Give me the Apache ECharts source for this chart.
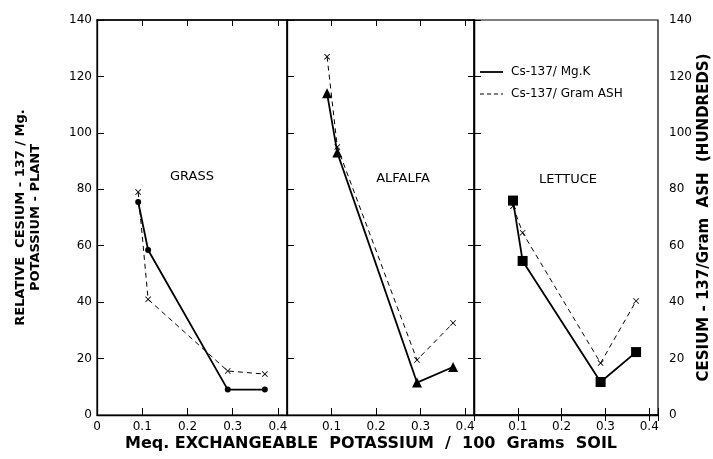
<!DOCTYPE html>
<html>
<head>
<meta charset="utf-8">
<script src="https://cdn.jsdelivr.net/npm/echarts@6/dist/echarts.min.js"></script>
<style>
  html, body { margin: 0; padding: 0; background: #fff; }
  #chart { width: 713px; height: 459px; }
</style>
</head>
<body>
<div id="chart"></div>
<script>
// panel names
const panels = ['GRASS', 'ALFALFA', 'LETTUCE']
// x = meq exchangeable potassium / 100 g soil
const grassX = [0.091, 0.113, 0.289, 0.371]
const grassMgK = [75.5, 58.5, 9, 9]
const grassAsh = [79, 41, 15.6, 14.5]
const alfalfaX = [0.090, 0.113, 0.292, 0.373]
const alfalfaMgK = [114, 93, 11.5, 17]
const alfalfaAsh = [127, 95, 19.5, 32.6]
const lettuceX = [0.089, 0.111, 0.289, 0.370]
const lettuceMgK = [76, 54.6, 11.7, 22.3]
const lettuceAsh = [74, 64.6, 18.4, 40.4]

const pairs = (xs, ys) => xs.map((x, i) => [x, ys[i]])
const FONT = 'DejaVu Sans'
const crossPath = 'path://M0,1L1,0L5,4L9,0L10,1L6,5L10,9L9,10L5,6L1,10L0,9L4,5Z'

let myChart = echarts.init(document.getElementById('chart'))

const grids = [
  { left: 97, width: 190, top: 20, height: 395 },
  { left: 287, width: 187, top: 20, height: 395 },
  { left: 474, width: 189, top: 20, height: 395 }
]

function xLabel(panel) {
  return function (v) {
    let r = Math.round(v * 10) / 10
    if (Math.abs(v - r) > 1e-6) return ''
    if (r === 0) return panel === 0 ? '0' : ''
    return r.toFixed(1)
  }
}

const xAxes = []
grids.forEach((g, i) => {
  xAxes.push({
    type: 'value', gridIndex: i, min: 0, max: 0.42, interval: 0.1,
    splitLine: { show: false },
    axisLine: { lineStyle: { color: '#000', width: 1.3 } },
    axisTick: { inside: true, length: 7, lineStyle: { color: '#000' } },
    axisLabel: { color: '#000', fontFamily: FONT, fontSize: 12, margin: 6, formatter: xLabel(i) }
  })
})
grids.forEach((g, i) => {
  xAxes.push({
    type: 'value', gridIndex: i, position: 'top', min: 0, max: 0.42, interval: 0.1,
    splitLine: { show: false },
    axisLine: { lineStyle: { color: '#000', width: 1.5 } },
    axisTick: { inside: true, length: 6, lineStyle: { color: '#000' } },
    axisLabel: { show: false }
  })
})

const yAxes = grids.map((g, i) => ({
  type: 'value', gridIndex: i, min: 0, max: 140, interval: 20,
  splitLine: { show: false },
  axisLine: { lineStyle: { color: '#000', width: 1.3 } },
  axisTick: { inside: true, length: 7, lineStyle: { color: '#000' } },
  axisLabel: { show: i === 0, color: '#000', fontFamily: FONT, fontSize: 12, margin: 5 },
  name: i === 0 ? 'RELATIVE  CESIUM - 137 / Mg.\nPOTASSIUM - PLANT' : '',
  nameLocation: 'middle',
  nameGap: 54,
  nameRotate: 90,
  nameTextStyle: { color: '#000', fontFamily: FONT, fontWeight: 'bold', fontSize: 13, lineHeight: 15 }
}))
yAxes.push({
  type: 'value', gridIndex: 2, position: 'right', min: 0, max: 140, interval: 20,
  splitLine: { show: false },
  axisLine: { lineStyle: { color: '#000', width: 1.3 } },
  axisTick: { inside: true, length: 6, lineStyle: { color: '#000' } },
  axisLabel: { color: '#000', fontFamily: FONT, fontSize: 12, margin: 11 },
  name: 'CESIUM - 137/Gram  ASH  (HUNDREDS)',
  nameLocation: 'middle',
  nameGap: 39,
  nameRotate: 90,
  nameTextStyle: { color: '#000', fontFamily: FONT, fontWeight: 'bold', fontSize: 15 }
})

const solidSymbols = ['circle', 'triangle', 'rect']
const solidSizes = [6, 10, 10]
const mgk = [pairs(grassX, grassMgK), pairs(alfalfaX, alfalfaMgK), pairs(lettuceX, lettuceMgK)]
const ash = [pairs(grassX, grassAsh), pairs(alfalfaX, alfalfaAsh), pairs(lettuceX, lettuceAsh)]

const series = []
for (let i = 0; i < 3; i++) {
  series.push({
    name: 'Cs-137/ Mg.K', type: 'line', xAxisIndex: i, yAxisIndex: i,
    data: mgk[i], symbol: solidSymbols[i], symbolSize: solidSizes[i],
    lineStyle: { color: '#000', width: 1.8 }, itemStyle: { color: '#000' },
    animation: false, z: 3
  })
  series.push({
    name: 'Cs-137/ Gram ASH', type: 'line', xAxisIndex: i, yAxisIndex: i,
    data: ash[i], symbol: crossPath, symbolSize: 6,
    lineStyle: { color: '#000', width: 1, type: [5, 4] }, itemStyle: { color: '#000' },
    animation: false, z: 2
  })
}

const panelLabelPos = [[192, 177], [403, 179], [568, 180]]

myChart.setOption({
  backgroundColor: '#fff',
  animation: false,
  grid: grids.map(g => Object.assign({ show: true, borderColor: '#000', borderWidth: 1.2 }, g)),
  xAxis: xAxes,
  yAxis: yAxes,
  series: series,
  graphic: [
    ...panels.map((p, i) => ({
      type: 'text', x: panelLabelPos[i][0], y: panelLabelPos[i][1],
      style: { text: p, fill: '#000', font: '13px "DejaVu Sans"', align: 'center', verticalAlign: 'middle' }
    })),
    { type: 'line', shape: { x1: 480, y1: 72, x2: 503, y2: 72 }, style: { stroke: '#000', lineWidth: 1.8 } },
    { type: 'text', x: 511, y: 72, style: { text: 'Cs-137/ Mg.K', fill: '#000', font: '12px "DejaVu Sans"', verticalAlign: 'middle' } },
    { type: 'line', shape: { x1: 480, y1: 94, x2: 503, y2: 94 }, style: { stroke: '#000', lineWidth: 1, lineDash: [4, 3] } },
    { type: 'text', x: 511, y: 94, style: { text: 'Cs-137/ Gram ASH', fill: '#000', font: '12px "DejaVu Sans"', verticalAlign: 'middle' } },
    { type: 'text', x: 371, y: 444, style: { text: 'Meq. EXCHANGEABLE  POTASSIUM  /  100  Grams  SOIL', fill: '#000', font: 'bold 16px "DejaVu Sans"', align: 'center', verticalAlign: 'middle' } }
  ]
})
</script>
</body>
</html>
